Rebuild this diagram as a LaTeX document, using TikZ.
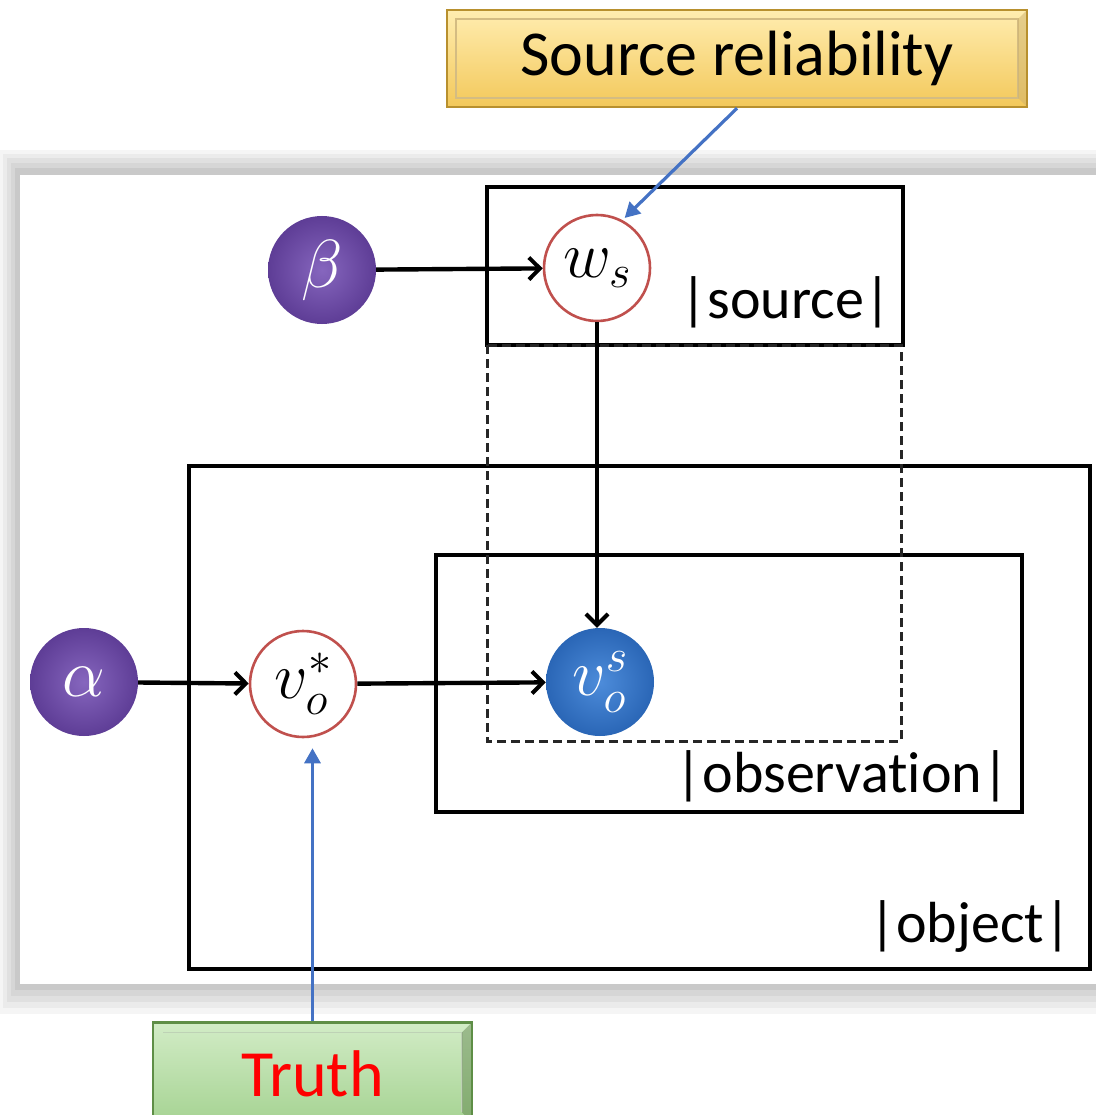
\RequirePackage{fix-cm}
\documentclass[tikz,border=0pt]{standalone}
\usepackage{fontspec}
\setmainfont[Ligatures=NoCommon]{Carlito}
\usetikzlibrary{arrows.meta}
\definecolor{purp}{HTML}{5E3D96}
\definecolor{purpl}{HTML}{8666BE}
\definecolor{blu}{HTML}{2A66B6}
\definecolor{blul}{HTML}{4D8CDA}
\definecolor{redb}{HTML}{C0504D}
\definecolor{bluearr}{HTML}{4472C4}
\definecolor{yeltop}{HTML}{FFEDB0}
\definecolor{yelbot}{HTML}{F3C85A}
\definecolor{yelbord}{HTML}{B8902E}
\definecolor{grntop}{HTML}{D2ECC6}
\definecolor{grnbot}{HTML}{A6D393}
\definecolor{grnbord}{HTML}{5E8E46}
\begin{document}
\begin{tikzpicture}[x=1pt,y=-1pt,
  plate/.style={draw=black,line width=3.2pt},
  dplate/.style={draw=black!85,line width=3pt,dash pattern=on 9pt off 5pt},
  arr/.style={line width=4.4pt,-{Straight Barb[length=11pt,width=22pt,line width=4pt]}},
  barr/.style={draw=bluearr,line width=3.2pt,-{Triangle[length=15pt,width=16pt]}},
  ballp/.style={circle,minimum size=108pt,inner sep=0pt,shading=radial,inner color=purpl,outer color=purp,text=white,font=\fontsize{68}{74}\selectfont},
  ballb/.style={circle,minimum size=108pt,inner sep=0pt,shading=radial,inner color=blul,outer color=blu,text=white,font=\fontsize{66}{72}\selectfont},
  wcirc/.style={circle,minimum size=106pt,inner sep=0pt,draw=redb,line width=2.6pt,fill=white,font=\fontsize{66}{72}\selectfont},
  lbl/.style={anchor=base east,inner sep=0pt,font=\fontsize{58}{64}\selectfont},
  callout/.style={rectangle,inner sep=0pt}
]
\useasboundingbox (0,0) rectangle (1096,1115);
% panel shadow
\fill[gray!8] (0,150) rectangle (1096,1014);
\fill[gray!16] (3,154) rectangle (1096,1008);
\fill[gray!24] (7,158) rectangle (1096,1002);
\fill[gray!32] (11,163) rectangle (1096,996);
\fill[gray!42] (15,168) rectangle (1096,990);
\fill[white] (20,175) rectangle (1096,984);
% plates
\draw[plate] (189,466) rectangle (1090,969);
\draw[plate] (436,555) rectangle (1022,812);
\draw[plate] (487,187) rectangle (903,345);
\draw[dplate] (487,345) rectangle (901,741);
% labels
\node[lbl] (lsrc) at (891,318) {|source|};
\node[lbl] (lobs) at (1009,792) {|observation|};
\node[lbl] (lobj) at (1071,942) {|object|};
% nodes
\node[ballp] (beta) at (322,270) {$\beta$};
\node[wcirc] (ws) at (597,268) {$w_s$};
\node[ballp] (alpha) at (84,682) {$\alpha$};
\node[wcirc] (vstar) at (303,684) {$v_o^*$};
\node[ballb] (vos) at (600,682) {$v_o^s$};
% arrows
\draw[arr] (beta) -- (ws);
\draw[arr] (ws.south) -- (ws.south |- vos.north);
\draw[arr] (alpha) -- (vstar);
\draw[arr] (vstar) -- (vos);
% callouts
\node[callout,minimum width=580pt,minimum height=97pt,top color=yeltop,bottom color=yelbot,draw=yelbord,line width=2.5pt,
  path picture={\draw[yelbord!60,line width=1.5pt] ([shift={(9pt,-9pt)}]path picture bounding box.north west) rectangle ([shift={(-9pt,9pt)}]path picture bounding box.south east);
  \fill[yelbord!70,opacity=0.5] (path picture bounding box.north east) -- ([shift={(-9pt,-9pt)}]path picture bounding box.north east) -- ([shift={(-9pt,9pt)}]path picture bounding box.south east) -- (path picture bounding box.south east) -- cycle;}] (srcrel) at (737,58.5) {};
\node[font=\fontsize{64}{70}\selectfont] (srctext) at (srcrel) {Source reliability};
\node[callout,minimum width=319pt,minimum height=100pt,top color=grntop,bottom color=grnbot,draw=grnbord,line width=2.5pt,anchor=north,
  path picture={\draw[grnbord!40,line width=1.5pt] ([shift={(10pt,-10pt)}]path picture bounding box.north west) -- ([shift={(-10pt,-10pt)}]path picture bounding box.north east) -- ([shift={(-10pt,10pt)}]path picture bounding box.south east);
  \fill[grnbord!80!black,opacity=0.4] (path picture bounding box.north east) -- ([shift={(-10pt,-10pt)}]path picture bounding box.north east) -- ([shift={(-10pt,10pt)}]path picture bounding box.south east) -- (path picture bounding box.south east) -- cycle;}] (truth) at (312.5,1021) {};
\node[font=\fontsize{66}{72}\selectfont,text=red,inner sep=0pt] (truthtext) at ([yshift=-2pt]truth) {Truth};
\draw[barr,shorten >=3pt] (srcrel.south) -- (ws.62);
\draw[barr,shorten >=10pt] (truth.north) -- (truth.north |- vstar.south);
\end{tikzpicture}
\end{document}
